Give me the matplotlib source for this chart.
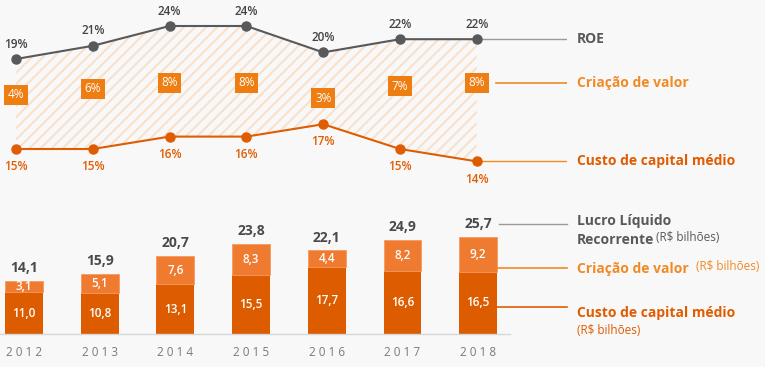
import matplotlib.pyplot as plt
import numpy as np
from matplotlib.transforms import offset_copy

plt.rcParams['font.family'] = ['Open Sans', 'DejaVu Sans']
plt.rcParams['hatch.linewidth'] = 1.4

years = ['2012', '2013', '2014', '2015', '2016', '2017', '2018']
roe = [19, 21, 24, 24, 20, 22, 22]
custo_pct = [15, 15, 16, 16, 17, 15, 14]
criacao_pct = [4, 6, 8, 8, 3, 7, 8]
custo_bil = [11.0, 10.8, 13.1, 15.5, 17.7, 16.6, 16.5]
criacao_bil = [3.1, 5.1, 7.6, 8.3, 4.4, 8.2, 9.2]
lucro = [14.1, 15.9, 20.7, 23.8, 22.1, 24.9, 25.7]

GRAY = '#58595b'
DARK_OR = '#e05c00'
MID_OR = '#ee7d12'
LIGHT_OR = '#f08a26'
BAR_DARK = '#dd5c00'
BAR_LIGHT = '#ef7b31'
BG = '#f8f8f8'

W, H = 765, 367
fig = plt.figure(figsize=(W / 100, H / 100), dpi=100, facecolor=BG)


def rect(l, t, r, b):
    return [l / W, 1 - b / H, (r - l) / W, (b - t) / H]


def br(v):
    return f'{v:.1f}'.replace('.', ',')


x = np.arange(len(years))

# ---- top: ROE / custo de capital / criacao de valor ----
ax = fig.add_axes(rect(0, 10, 567, 175))
ax_c = ax.twinx()
ax_v = ax.twinx()
xl = (-16 / 76.8, (567 - 16) / 76.8)
for a in (ax, ax_c, ax_v):
    a.set_xlim(xl)
    a.axis('off')
ax.set_ylim(19 - 116 / 6.6, 19 + 49 / 6.6)
ax_c.set_ylim(15 - 26 / 12.4, 15 + 139 / 12.4)
ax_v.set_ylim((107 - 175) / 3, (107 - 10) / 3)

# custo line expressed in ROE units for the hatched area
pts = ax_c.transData.transform(np.column_stack([x, custo_pct]))
custo_in_roe = ax.transData.inverted().transform(pts)[:, 1]
ax.fill_between(x, custo_in_roe, roe, facecolor='none', edgecolor='#fadfc8',
                hatch='///', linewidth=0, zorder=1)

ax.plot(x, roe, color=GRAY, lw=1.5, marker='o', ms=6.5, zorder=3)
ax.plot([x[-1], xl[1]], [roe[-1], roe[-1]], color='#9a9a9a', lw=1, zorder=2)
ax_c.plot(x, custo_pct, color=DARK_OR, lw=1.5, marker='o', ms=6.5, zorder=3)
ax_c.plot([x[-1], xl[1]], [custo_pct[-1], custo_pct[-1]], color=LIGHT_OR, lw=1, zorder=2)
ax_v.plot([6.25, xl[1]], [criacao_pct[-1], criacao_pct[-1]], color=LIGHT_OR, lw=1.2)

for i in range(len(years)):
    ax.annotate(f'{roe[i]}%', (x[i], roe[i]), xytext=(0, 6), textcoords='offset points',
                ha='center', va='bottom', fontsize=8.5, fontweight='semibold',
                color='#444444')
    ax_c.annotate(f'{custo_pct[i]}%', (x[i], custo_pct[i]), xytext=(0, -8),
                  textcoords='offset points', ha='center', va='top', fontsize=8.5,
                  fontweight='semibold', color=DARK_OR)
    ax_v.text(x[i], criacao_pct[i], f'{criacao_pct[i]}%', ha='center', va='center',
              fontsize=8.5, color='white',
              bbox=dict(boxstyle='square,pad=0.3', fc=MID_OR, ec='none'))

lx = xl[1] + 10 / 76.8
ax.text(lx, roe[-1], 'ROE', fontsize=10, fontweight='bold', color=GRAY,
        va='center', ha='left', clip_on=False)
ax_v.text(lx, criacao_pct[-1], 'Criação de valor', fontsize=10, fontweight='bold',
          color=LIGHT_OR, va='center', ha='left', clip_on=False)
ax_c.text(lx, custo_pct[-1], 'Custo de capital médio', fontsize=10, fontweight='bold',
          color=DARK_OR, va='center', ha='left', clip_on=False)

# ---- bottom: stacked bars ----
bx = fig.add_axes(rect(0, 200, 510, 334))
bx.set_facecolor('none')
bxl = (-24 / 75.7, 486 / 75.7)
bx.set_xlim(bxl)
bx.set_ylim(0, 134 / 3.78)
bx.bar(x, custo_bil, width=0.5, color=BAR_DARK, zorder=2)
bx.bar(x, criacao_bil, width=0.5, bottom=custo_bil, color=BAR_LIGHT,
       edgecolor='#f59a60', linewidth=0.6, zorder=2)
for s in ('top', 'left', 'right'):
    bx.spines[s].set_visible(False)
bx.spines['bottom'].set_color('#d6d6d6')
bx.spines['bottom'].set_linewidth(1)
bx.set_yticks([])
bx.set_xticks(x)
bx.set_xticklabels([' '.join(y) for y in years], fontsize=8.5, color='#7a7a7a')
bx.tick_params(axis='x', length=0, pad=9)

for i in range(len(years)):
    bx.text(x[i], custo_bil[i] / 2, br(custo_bil[i]), ha='center', va='center',
            fontsize=8.5, fontweight='semibold', color='white', zorder=3)
    bx.text(x[i], custo_bil[i] + criacao_bil[i] / 2, br(criacao_bil[i]), ha='center',
            va='center', fontsize=8.5, fontweight='semibold', color='white', zorder=3)
    bx.annotate(br(lucro[i]), (x[i], lucro[i]), xytext=(0, 4), textcoords='offset points',
                ha='center', va='bottom', fontsize=10, fontweight='bold', color='#4a4a4a')

rx = (567 - 24) / 75.7
t_up = offset_copy(bx.transData, fig=fig, y=13, units='dots')
bx.plot([6.27, rx], [lucro[-1], lucro[-1]], color='#9a9a9a', lw=1,
        transform=t_up, clip_on=False)
bx.plot([6.25, rx], [custo_bil[-1] + 1, custo_bil[-1] + 1], color=LIGHT_OR, lw=1.2,
        clip_on=False)
bx.plot([6.25, rx], [custo_bil[-1] / 2 - 1.2, custo_bil[-1] / 2 - 1.2], color=DARK_OR,
        lw=1.2, clip_on=False)

t1 = fig.text(577 / W, 1 - 221 / H, 'Lucro Líquido', fontsize=10, fontweight='bold',
              color=GRAY, va='center')
t2 = fig.text(577 / W, 1 - 240 / H, 'Recorrente', fontsize=10, fontweight='bold',
              color=GRAY, va='center')
t3 = fig.text(577 / W, 1 - 269 / H, 'Criação de valor', fontsize=10, fontweight='bold',
              color=LIGHT_OR, va='center')
t4 = fig.text(577 / W, 1 - 313 / H, 'Custo de capital médio', fontsize=10,
              fontweight='bold', color=DARK_OR, va='center')
fig.text(577 / W, 1 - 331 / H, '(R$ bilhões)', fontsize=8.5, color=DARK_OR, va='center')
fig.canvas.draw()
rend = fig.canvas.get_renderer()
bb2 = t2.get_window_extent(renderer=rend)
bb3 = t3.get_window_extent(renderer=rend)
fig.text((bb2.x1 + 2) / W, (bb2.y0 + 3) / H, '(R$ bilhões)', fontsize=8.5, color=GRAY,
         va='bottom')
fig.text((bb3.x1 + 7) / W, (bb3.y0 + 3) / H, '(R$ bilhões)', fontsize=8.5, color=LIGHT_OR,
         va='bottom')

fig.savefig('out.png', dpi=100, facecolor=BG)
